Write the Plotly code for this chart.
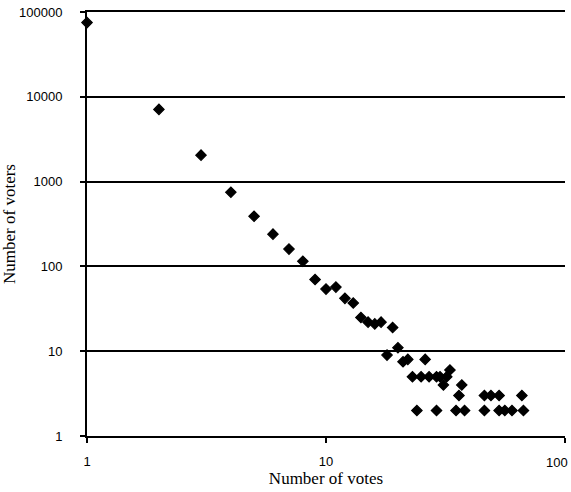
import plotly.graph_objects as go
import math

votes = [1, 2, 3, 4, 5, 6, 7, 8, 9, 10, 11, 12, 13, 14, 15, 16, 17, 18, 19, 20,
         21, 22, 26, 23, 25, 27, 29, 30, 32, 33, 31, 37, 36, 46, 49, 53, 66,
         24, 29, 35, 38, 46, 53, 56, 60, 67]
voters = [75000, 7100, 2050, 750, 390, 240, 160, 115, 70, 54, 57, 42, 37, 25, 22, 21, 22, 9, 19, 11,
          7.5, 8, 8, 5, 5, 5, 5, 5, 5, 6, 4, 4, 3, 3, 3, 3, 3,
          2, 2, 2, 2, 2, 2, 2, 2, 2]

x_ticks = [1, 10, 100]
x_labels = ["1", "10", "100"]
y_ticks = [1, 10, 100, 1000, 10000, 100000]
y_labels = ["1", "10", "100", "1000", "10000", "100000"]

fig = go.Figure()
fig.add_trace(go.Scatter(
    x=votes, y=voters, mode="markers",
    marker=dict(symbol="diamond", size=8, color="black", line=dict(color="black", width=1.2)),
    cliponaxis=False, showlegend=False, hoverinfo="skip",
))

fig.update_layout(
    width=571, height=492,
    margin=dict(l=87, r=6, t=12, b=56),
    plot_bgcolor="white", paper_bgcolor="white",
    font=dict(family="Liberation Sans", size=13, color="black"),
)
# the last x tick label sits at the right edge; draw it as an annotation nudged inside
axis_labels = x_labels[:-1] + [""]
fig.add_annotation(
    x=math.log10(x_ticks[-1]), xref="x", y=0, yref="paper",
    text=x_labels[-1], showarrow=False,
    xanchor="right", yanchor="middle", xshift=5, yshift=-26,
    font=dict(family="Liberation Sans", size=13, color="black"),
)
fig.update_xaxes(
    type="log", range=[0, 2.00002], automargin=False,
    tickvals=x_ticks, ticktext=axis_labels,
    showgrid=False, showline=True, linecolor="black", linewidth=2, mirror=True,
    ticks="outside", ticklen=5, tickwidth=2, tickcolor="black",
    ticklabelstandoff=7,
    title=dict(text="Number of votes", font=dict(family="Liberation Serif", size=17), standoff=0),
)
fig.update_yaxes(
    type="log", range=[0, 5.00001], automargin=False,
    tickvals=y_ticks, ticktext=y_labels, ticklabeloverflow="allow",
    showgrid=True, gridcolor="black", gridwidth=2,
    showline=True, linecolor="black", linewidth=2,
    ticks="outside", ticklen=5, tickwidth=2, tickcolor="black",
    ticklabelstandoff=15,
    title=dict(text="Number of voters", font=dict(family="Liberation Serif", size=17), standoff=0),
)

fig.write_html(
    "out.html",
    config={"displayModeBar": False},
    post_script="document.body.style.margin='0';document.body.style.overflow='hidden';",
)
